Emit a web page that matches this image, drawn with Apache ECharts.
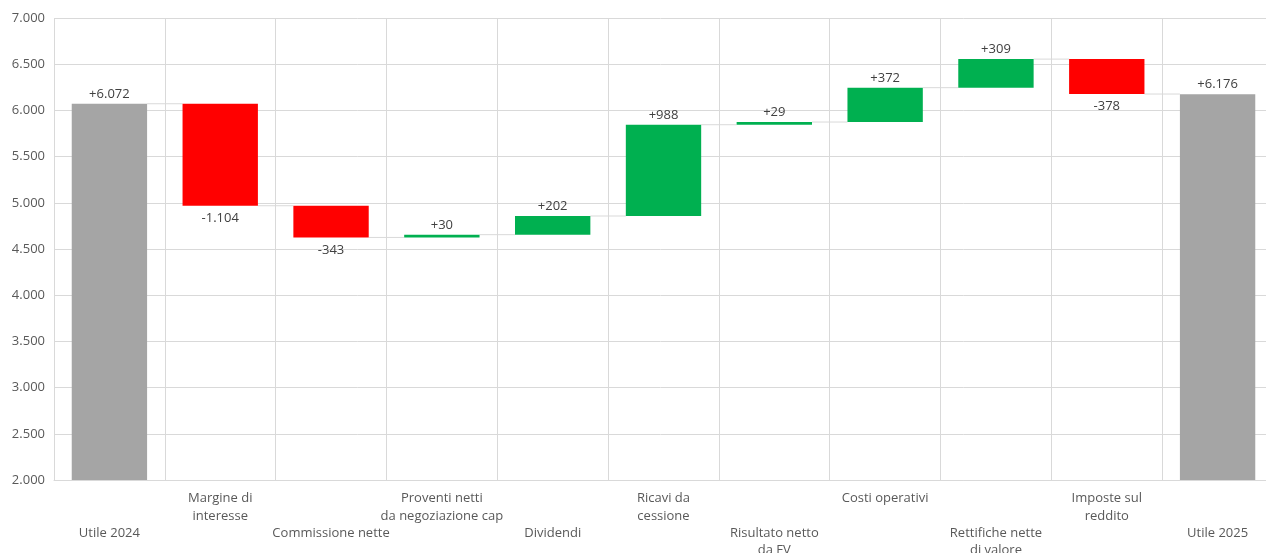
<!DOCTYPE html>
<html>
<head>
<meta charset="utf-8">
<script src="https://cdn.jsdelivr.net/npm/echarts@6/dist/echarts.min.js"></script>
<style>
html,body{margin:0;padding:0;background:#fff;}
#chart{width:1266px;height:553px;}
</style>
</head>
<body>
<div id="chart"></div>
<script>
// ---- data ----
const categories = [
  'Utile 2024', 'Margine di\ninteresse', 'Commissione nette',
  'Proventi netti\nda negoziazione cap', 'Dividendi', 'Ricavi da\ncessione',
  'Risultato netto\nda FV', 'Costi operativi', 'Rettifiche nette\ndi valore',
  'Imposte sul\nreddito', 'Utile 2025'
];
const isTotal = [true, false, false, false, false, false, false, false, false, false, true];
const values = [6072, -1104, -343, 30, 202, 988, 29, 372, 309, -378, 6176];
const yTicks = { min: 2000, max: 7000, interval: 500 };

// ---- derived ----
const fmt = v => {
  const s = Math.abs(Math.round(v)).toString().replace(/\B(?=(\d{3})+(?!\d))/g, '.');
  return (v < 0 ? '-' : '+') + s;
};
const base = [], vis = [], after = [];
let run = 0;
values.forEach((v, i) => {
  if (isTotal[i]) {
    base.push(0); vis.push(v); run = v;
  } else if (v >= 0) {
    base.push(run); vis.push(v); run += v;
  } else {
    base.push(run + v); vis.push(-v); run += v;
  }
  after.push(run);
});
const colorOf = i => isTotal[i] ? '#a5a5a5' : (values[i] >= 0 ? '#00b050' : '#ff0000');

const barData = vis.map((v, i) => {
  const up = isTotal[i] || values[i] >= 0;
  return {
    value: v,
    itemStyle: { color: colorOf(i) },
    label: {
      show: true,
      position: up ? 'top' : 'bottom',
      distance: up ? 3 : 6,
      formatter: fmt(values[i])
    }
  };
});
const connData = after.slice(0, after.length - 1).map((t, i) => [i, t]);

const BAR_RATIO = 0.68;
const font = '"Open Sans", "Noto Sans", sans-serif';

const chart = echarts.init(document.getElementById('chart'));
chart.setOption({
  animation: false,
  textStyle: { fontFamily: font },
  grid: { left: 54, right: -7, top: 18, bottom: 73, containLabel: false, outerBoundsMode: 'none' },
  xAxis: {
    type: 'category',
    data: categories,
    boundaryGap: true,
    axisLine: { show: true, lineStyle: { color: '#d9d9d9', width: 1 } },
    axisTick: { show: false },
    splitLine: { show: true, lineStyle: { color: '#d9d9d9', width: 1 } },
    axisLabel: {
      interval: 0,
      margin: 10,
      color: '#595959',
      fontSize: 13,
      lineHeight: 17.3,
      fontFamily: font,
      formatter: (val, idx) => (idx % 2 === 0 ? '\n\n' : '') + val
    }
  },
  yAxis: {
    type: 'value',
    min: yTicks.min, max: yTicks.max, interval: yTicks.interval,
    axisLine: { show: false },
    axisTick: { show: false },
    splitLine: { show: true, lineStyle: { color: '#d9d9d9', width: 1 } },
    axisLabel: {
      color: '#595959', fontSize: 13, margin: 9, fontFamily: font,
      formatter: v => v.toString().replace(/\B(?=(\d{3})+(?!\d))/g, '.')
    }
  },
  series: [
    {
      type: 'bar', stack: 'wf', barWidth: (BAR_RATIO * 100) + '%',
      itemStyle: { color: 'transparent' }, silent: true,
      data: base
    },
    {
      type: 'bar', stack: 'wf', barWidth: (BAR_RATIO * 100) + '%',
      data: barData,
      label: { color: '#404040', fontSize: 13, fontFamily: font }
    },
    {
      type: 'custom',
      data: connData,
      z: 1,
      renderItem: (params, api) => {
        const p = api.coord([api.value(0), api.value(1)]);
        const bw = api.size([1, 0])[0];
        const half = bw * BAR_RATIO / 2;
        return {
          type: 'line',
          shape: { x1: p[0] + half, y1: p[1], x2: p[0] + bw - half, y2: p[1] },
          style: { stroke: '#d9d9d9', lineWidth: 1 }
        };
      }
    }
  ]
});
</script>
</body>
</html>
